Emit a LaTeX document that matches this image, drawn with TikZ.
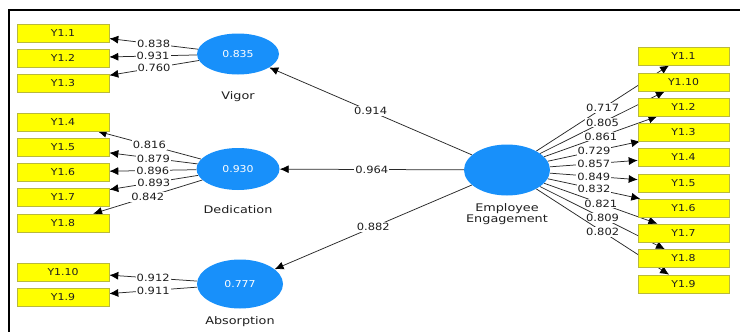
\documentclass[tikz,border=0pt]{standalone}
\usepackage{fontspec}
\setmainfont{DejaVu Sans}
\newfontfamily\numfont[FakeStretch=1.15]{DejaVu Sans}
\newfontfamily\namefont[FakeStretch=1.22]{DejaVu Sans}
\usetikzlibrary{shapes.geometric,arrows.meta}
\pgfdeclarelayer{links}
\pgfsetlayers{links,main}
\definecolor{itemyellow}{RGB}{255,255,0}
\definecolor{itemedge}{RGB}{185,185,60}
\definecolor{lvblue}{RGB}{24,144,250}
\definecolor{linegray}{RGB}{40,40,40}
\definecolor{txtgray}{RGB}{30,30,30}
\tikzset{
  item/.style={draw=itemedge, fill=itemyellow, minimum width=92pt, minimum height=18pt,
    inner sep=0pt, line width=0.6pt, text=txtgray, font=\numfont\fontsize{9.5}{10}\selectfont},
  latent/.style={ellipse, fill=lvblue, draw=none, inner sep=0pt, text=white,
    font=\numfont\fontsize{9.5}{10}\selectfont},
  lvname/.style={align=center, text=txtgray, font=\namefont\fontsize{10.5}{11}\selectfont},
  load/.style={fill=white, inner sep=1pt, text=txtgray, font=\numfont\fontsize{10}{10}\selectfont},
  arr/.style={draw=linegray, line width=0.75pt,
    -{Latex[length=9pt,width=8pt,fill=black,color=black]}},
}
\begin{document}
\begin{tikzpicture}[x=1pt,y=-1pt]
\useasboundingbox (0,0) rectangle (740,332);
% frame
\draw[line width=2pt] (9,333) -- (9,10) -- (741,10);

% latent variables
\node[latent, minimum width=82pt, minimum height=41pt] (vig) at (238,54) {0.835};
\node[latent, minimum width=83pt, minimum height=42pt] (ded) at (238,169) {0.930};
\node[latent, minimum width=86pt, minimum height=49pt] (abs) at (240,284) {0.777};
\node[latent, minimum width=86pt, minimum height=51pt] (ee) at (507,170) {};

\node[lvname] (vign) at (238,97) {Vigor};
\node[lvname] (dedn) at (238,210) {Dedication};
\node[lvname] (absn) at (240,322) {Absorption};
\node[lvname] (een) at (507,214) {Employee\\Engagement};

% indicators, left column
\node[item] (a11) at (63,33) {Y1.1};
\node[item] (a12) at (63,58) {Y1.2};
\node[item] (a13) at (63,83) {Y1.3};
\node[item] (a14) at (63,122) {Y1.4};
\node[item] (a15) at (63,147) {Y1.5};
\node[item] (a16) at (63,172) {Y1.6};
\node[item] (a17) at (63,197) {Y1.7};
\node[item] (a18) at (63,223) {Y1.8};
\node[item] (a110) at (63,272) {Y1.10};
\node[item] (a19) at (63,297) {Y1.9};

% indicators, right column
\node[item, minimum width=91pt] (b11) at (683.5,56) {Y1.1};
\node[item, minimum width=91pt] (b110) at (683.5,82) {Y1.10};
\node[item, minimum width=91pt] (b12) at (683.5,107) {Y1.2};
\node[item, minimum width=91pt] (b13) at (683.5,132) {Y1.3};
\node[item, minimum width=91pt] (b14) at (683.5,157) {Y1.4};
\node[item, minimum width=91pt] (b15) at (683.5,183) {Y1.5};
\node[item, minimum width=91pt] (b16) at (683.5,208) {Y1.6};
\node[item, minimum width=91pt] (b17) at (683.5,233) {Y1.7};
\node[item, minimum width=91pt] (b18) at (683.5,258.5) {Y1.8};
\node[item, minimum width=91pt] (b19) at (683.5,284) {Y1.9};

\begin{pgfonlayer}{links}
% outer loadings of the first-order constructs
\draw[arr] (vig) -- node[load] {0.838} (a11);
\draw[arr] (vig) -- node[load] {0.931} (a12);
\draw[arr] (vig) -- node[load] {0.760} (a13);

\draw[arr] (ded) -- node[load] {0.816} (a14);
\draw[arr] (ded) -- node[load] {0.879} (a15);
\draw[arr] (ded) -- node[load] {0.896} (a16);
\draw[arr] (ded) -- node[load] {0.893} (a17);
\draw[arr] (ded) -- node[load] {0.842} (a18);

\draw[arr] (abs) -- node[load] {0.912} (a110);
\draw[arr] (abs) -- node[load] {0.911} (a19);

% second-order paths
\draw[arr] (ee) -- node[load] {0.914} (vig);
\draw[arr] (ee) -- node[load] {0.964} (ded);
\draw[arr] (ee) -- node[load] {0.882} (abs);

% loadings of Employee Engagement
\draw[arr] (ee) -- node[load] {0.717} (b11);
\draw[arr] (ee) -- node[load] {0.805} (b110);
\draw[arr] (ee) -- node[load] {0.861} (b12);
\draw[arr] (ee) -- node[load] {0.729} (b13);
\draw[arr] (ee) -- node[load] {0.857} (b14);
\draw[arr] (ee) -- node[load] {0.849} (b15);
\draw[arr] (ee) -- node[load] {0.832} (b16);
\draw[arr] (ee) -- node[load] {0.821} (b17);
\draw[arr] (ee) -- node[load] {0.809} (b18);
\draw[arr] (ee) -- node[load] {0.802} (b19);
\end{pgfonlayer}
\end{tikzpicture}
\end{document}
